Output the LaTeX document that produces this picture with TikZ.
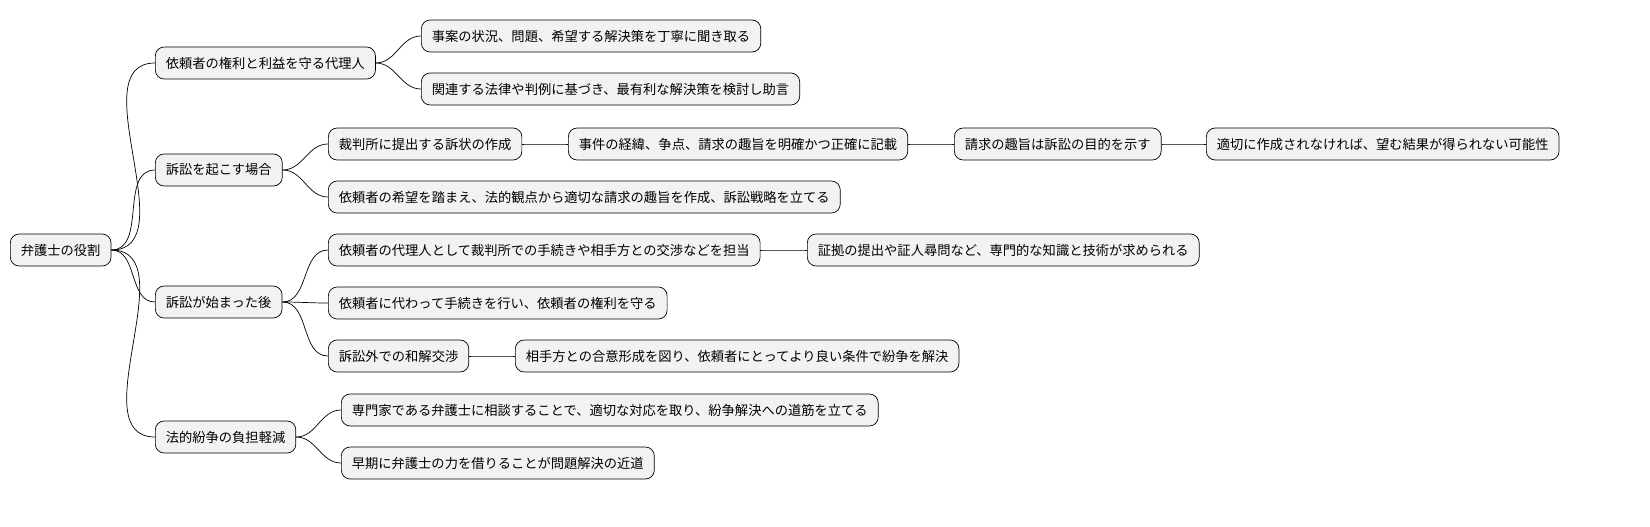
\documentclass[tikz,border=0pt]{standalone}
\usepackage{fontspec}
\newfontfamily\jpfont{Noto Sans CJK JP}
\begin{document}
\begin{tikzpicture}[x=0.02cm,y=-0.02cm,
    topic/.style={draw, rounded corners=5pt, fill=gray!10, anchor=west, minimum height=0.64cm,
      inner xsep=6pt, font=\jpfont\fontsize{7.55}{9}\selectfont},
    link/.style={draw, thin}]
    \useasboundingbox (0,0) rectangle (1650,527);
    % root
    \node[topic] (root) at (10,250) {弁護士の役割};
    % branch 1
    \node[topic] (rep) at (155,63) {依頼者の権利と利益を守る代理人};
    \node[topic] (hear) at (421,36) {事案の状況、問題、希望する解決策を丁寧に聞き取る};
    \node[topic] (advise) at (421,89) {関連する法律や判例に基づき、最有利な解決策を検討し助言};
    % branch 2
    \node[topic] (sue) at (155,170) {訴訟を起こす場合};
    \node[topic] (draft) at (328,144) {裁判所に提出する訴状の作成};
    \node[topic] (facts) at (568,144) {事件の経緯、争点、請求の趣旨を明確かつ正確に記載};
    \node[topic] (claim) at (954,144) {請求の趣旨は訴訟の目的を示す};
    \node[topic] (risk) at (1206,144) {適切に作成されなければ、望む結果が得られない可能性};
    \node[topic] (plan) at (328,197) {依頼者の希望を踏まえ、法的観点から適切な請求の趣旨を作成、訴訟戦略を立てる};
    % branch 3
    \node[topic] (after) at (155,302) {訴訟が始まった後};
    \node[topic] (agent) at (328,250) {依頼者の代理人として裁判所での手続きや相手方との交渉などを担当};
    \node[topic] (skill) at (807,250) {証拠の提出や証人尋問など、専門的な知識と技術が求められる};
    \node[topic] (proc) at (328,303) {依頼者に代わって手続きを行い、依頼者の権利を守る};
    \node[topic] (settle) at (328,356) {訴訟外での和解交渉};
    \node[topic] (agree) at (515,356) {相手方との合意形成を図り、依頼者にとってより良い条件で紛争を解決};
    % branch 4
    \node[topic] (ease) at (155,437) {法的紛争の負担軽減};
    \node[topic] (consult) at (341,410) {専門家である弁護士に相談することで、適切な対応を取り、紛争解決への道筋を立てる};
    \node[topic] (early) at (341,463) {早期に弁護士の力を借りることが問題解決の近道};
    % connectors
    \foreach \a/\b in {root/rep,root/sue,root/after,root/ease,rep/hear,rep/advise,
        sue/draft,sue/plan,after/agent,after/proc,after/settle,ease/consult,ease/early,
        draft/facts,facts/claim,claim/risk,agent/skill,settle/agree}
      \draw[link] (\a.east) to[out=0,in=180] (\b.west);
\end{tikzpicture}
\end{document}
